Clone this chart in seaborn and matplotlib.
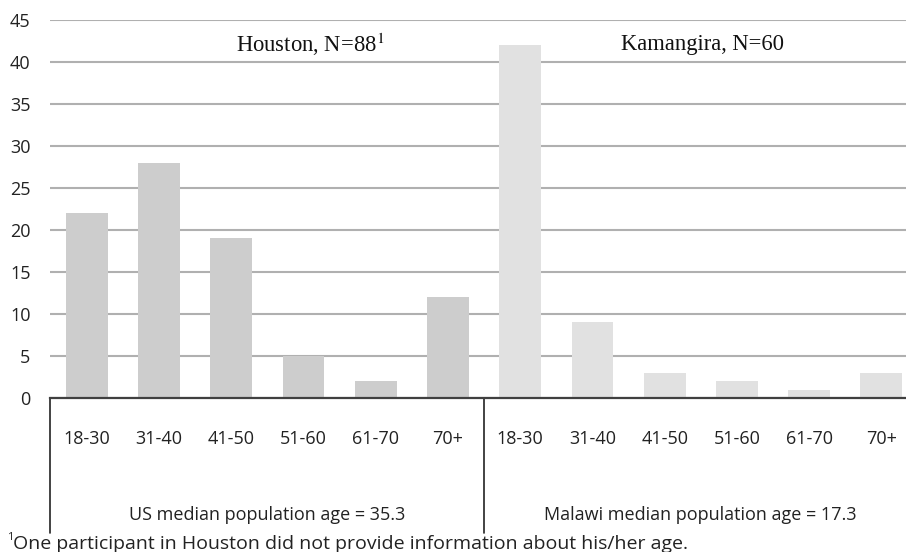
import matplotlib
matplotlib.use("Agg")
import matplotlib.pyplot as plt
import seaborn as sns
import pandas as pd

age_groups = ["18-30", "31-40", "41-50", "51-60", "61-70", "70+"]
houston = [22, 28, 19, 5, 2, 12]
kamangira = [42, 9, 3, 2, 1, 3]
sites = ["Houston", "Kamangira"]
titles = ["Houston, N=88$^{1}$", "Kamangira, N=60"]
group_labels = ["US median population age = 35.3", "Malawi median population age = 17.3"]
footnote = "One participant in Houston did not provide information about his/her age."
yticks = [0, 5, 10, 15, 20, 25, 30, 35, 40, 45]

sns.set_theme(style="white")
plt.rcParams["font.family"] = ["Open Sans", "DejaVu Sans"]
plt.rcParams["mathtext.fontset"] = "stix"

keys = [f"{s}|{a}" for s in sites for a in age_groups]
df = pd.DataFrame({
    "key": keys,
    "value": houston + kamangira,
    "site": [s for s in sites for _ in age_groups],
})

W, H = 906, 552
FS = 13
fig = plt.figure(figsize=(W / 100, H / 100), dpi=100)
ax = fig.add_axes([50 / W, (H - 398) / H, (W - 50) / W, 378 / H])

sns.barplot(data=df, x="key", y="value", hue="site", order=keys,
            palette={"Houston": "#cdcdcd", "Kamangira": "#e1e1e1"},
            dodge=False, width=0.58, legend=False, ax=ax, zorder=2,
            linewidth=0, edgecolor="none")

ax.set_xlim(-0.51, 11.34)
ax.set_ylim(0, 45)
ax.set_yticks(yticks)
ax.set_yticklabels([str(v) for v in yticks], fontsize=FS, color="#222222")
ax.grid(axis="y", color="#b0b0b0", linewidth=1.5, zorder=0)
ax.set_axisbelow(True)
for s in ["top", "right", "left"]:
    ax.spines[s].set_visible(False)
ax.spines["bottom"].set_color("#404040")
ax.spines["bottom"].set_linewidth(1.6)
ax.set_xticks(range(len(keys)))
ax.set_xticklabels(age_groups + age_groups, fontsize=FS, color="#222222")
ax.tick_params(axis="x", length=0, pad=23)
ax.tick_params(axis="y", length=0, pad=14)
ax.set_xlabel("")
ax.set_ylabel("")

# Vertical divider lines below the axis
trans = ax.get_xaxis_transform()
ybot = (398 - 533) / 378
ax.plot([-0.51, -0.51], [0, ybot], color="#222222", lw=1.2, transform=trans, clip_on=False)
ax.plot([5.5, 5.5], [0, ybot], color="#222222", lw=1.2, transform=trans, clip_on=False)

# Site titles
ax.text(3.09, 42.1, titles[0], fontsize=16.3, family="Liberation Serif",
        ha="center", va="center", color="#111111")
ax.text(8.52, 42.1, titles[1], fontsize=16.3, family="Liberation Serif",
        ha="center", va="center", color="#111111")

# Group labels
fig.text(267 / W, 1 - 515 / H, group_labels[0], fontsize=FS, ha="center", va="center", color="#222222")
fig.text(700 / W, 1 - 515 / H, group_labels[1], fontsize=FS, ha="center", va="center", color="#222222")

# Footnote
fig.text(13 / W, 1 - 544 / H, footnote, fontsize=14, ha="left", va="center", color="#222222")
fig.text(7 / W, 1 - 538 / H, "1", fontsize=8, ha="left", va="center", color="#222222")

fig.savefig("out.png", dpi=100, facecolor="white")
